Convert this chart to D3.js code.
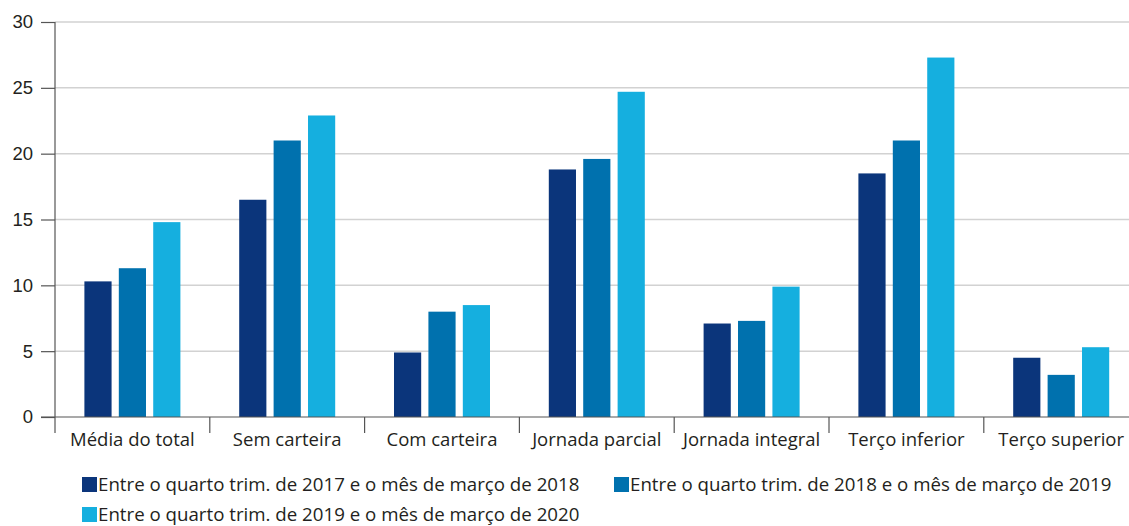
<!DOCTYPE html>
<html>
<head>
<meta charset="utf-8">
<script src="https://cdn.jsdelivr.net/npm/d3@7"></script>
<style>
  body { margin: 0; background: #fff; }
  svg { display: block; font-family: "Open Sans", sans-serif; }
  .grid line { stroke: #d2d2d2; stroke-width: 1.5; }
  .axis text { fill: #231f20; font-size: 18.5px; }
  .axis path, .axis line { stroke: #555; stroke-width: 1.2; }
  .legend text { fill: #231f20; font-size: 18.7px; }
</style>
</head>
<body>
<svg id="chart" width="1129" height="526"></svg>
<script>
var categories = ["Média do total", "Sem carteira", "Com carteira", "Jornada parcial", "Jornada integral", "Terço inferior", "Terço superior"];
var seriesNames = [
    "Entre o quarto trim. de 2017 e o mês de março de 2018",
    "Entre o quarto trim. de 2018 e o mês de março de 2019",
    "Entre o quarto trim. de 2019 e o mês de março de 2020"
];
var values2018 = [10.3, 16.5, 4.9, 18.8, 7.1, 18.5, 4.5];
var values2019 = [11.3, 21.0, 8.0, 19.6, 7.3, 21.0, 3.2];
var values2020 = [14.8, 22.9, 8.5, 24.7, 9.9, 27.3, 5.3];
var yTicks = [0, 5, 10, 15, 20, 25, 30];
var colors = ["#0b357b", "#0071ae", "#15afdf"];

var allSeries = [values2018, values2019, values2020];

var svg = d3.select("#chart");
var plotLeft = 55, plotRight = 1129, plotTop = 22, plotBottom = 417;

var x0 = d3.scaleBand().domain(categories).range([plotLeft, plotLeft + 154.8 * 7]);
var bw = x0.bandwidth();
var x1 = d3.scaleBand().domain([0, 1, 2])
    .range([bw / 2 - 48, bw / 2 + 48]).paddingInner(0.21);
var y = d3.scaleLinear().domain([0, 30]).range([plotBottom, plotTop]);

// gridlines
svg.append("g").attr("class", "grid")
    .selectAll("line").data(yTicks.filter(d => d > 0)).enter().append("line")
    .attr("x1", plotLeft).attr("x2", plotRight)
    .attr("y1", d => y(d)).attr("y2", d => y(d));

// bars
var groups = svg.append("g").selectAll("g").data(categories).enter().append("g")
    .attr("transform", d => `translate(${x0(d)},0)`);

groups.selectAll("rect")
    .data((d, i) => allSeries.map((s, k) => ({k: k, v: s[i]})))
    .enter().append("rect")
    .attr("x", d => x1(d.k))
    .attr("width", x1.bandwidth())
    .attr("y", d => y(d.v))
    .attr("height", d => y(0) - y(d.v))
    .attr("fill", d => colors[d.k]);

// y axis
var yAxis = svg.append("g").attr("class", "axis")
    .attr("transform", `translate(${plotLeft},0)`)
    .call(d3.axisLeft(y).tickValues(yTicks).tickSize(14).tickPadding(8));
yAxis.select(".domain").attr("d", `M0,${plotTop}V${plotBottom}`);

// x axis
var xAxis = svg.append("g").attr("class", "axis")
    .attr("transform", `translate(0,${plotBottom})`);
xAxis.append("line").attr("x1", plotLeft - 14).attr("x2", plotRight)
    .attr("y1", 0).attr("y2", 0);
xAxis.selectAll(".tick").data(categories.map(c => x0(c))).enter().append("line")
    .attr("x1", d => d).attr("x2", d => d)
    .attr("y1", 0).attr("y2", 16);
xAxis.selectAll("text").data(categories).enter().append("text")
    .attr("x", d => x0(d) + bw / 2)
    .attr("y", 29)
    .attr("text-anchor", "middle")
    .text(d => d);

// legend
var legendPos = [[82, 477], [614, 477], [82, 507]];
var legend = svg.append("g").attr("class", "legend")
    .selectAll("g").data(seriesNames).enter().append("g")
    .attr("transform", (d, i) => `translate(${legendPos[i][0]},${legendPos[i][1]})`);
legend.append("rect").attr("width", 15).attr("height", 15)
    .attr("fill", (d, i) => colors[i]);
legend.append("text").attr("x", 16).attr("y", 14).text(d => d);
</script>
</body>
</html>
